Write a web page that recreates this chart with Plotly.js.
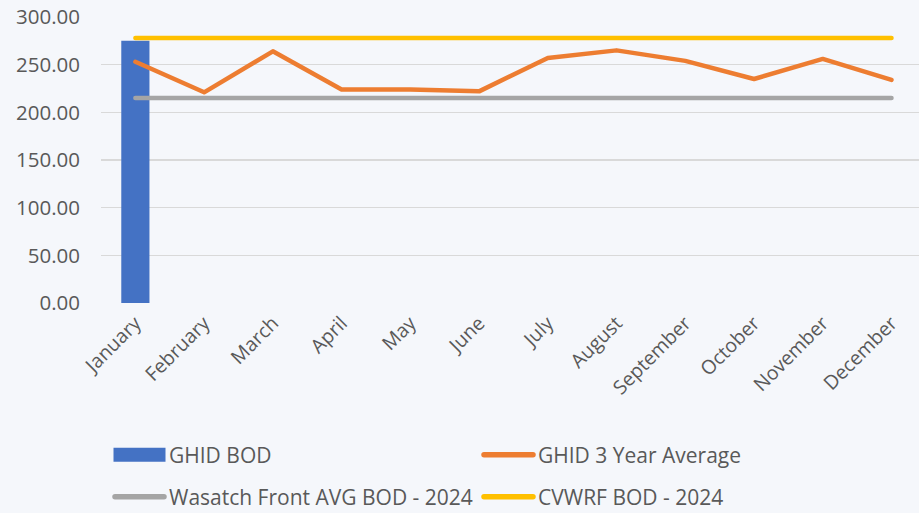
<!DOCTYPE html>
<html>
<head>
<meta charset="utf-8">
<script src="https://cdn.plot.ly/plotly-3.0.1.min.js"></script>
<style>html,body{margin:0;padding:0;background:#f5f7fb;}#chart{width:919px;height:513px;}</style>
</head>
<body>
<div id="chart"></div>
<script>
const months = ["January","February","March","April","May","June","July","August","September","October","November","December"];
const ghidBod = [275, null, null, null, null, null, null, null, null, null, null, null];
const ghid3yr = [253, 221, 264, 224, 224, 222, 257, 265, 254, 235, 256, 234];
const wasatch = [215, 215, 215, 215, 215, 215, 215, 215, 215, 215, 215, 215];
const cvwrf = [278, 278, 278, 278, 278, 278, 278, 278, 278, 278, 278, 278];
const yTicks = [0, 50, 100, 150, 200, 250, 300];

const font = "'Open Sans', sans-serif";
const traces = [
  {type:'bar', x:months, y:ghidBod, name:'GHID BOD', marker:{color:'#4472c4'}, width:0.41, legend:'legend'},
  {type:'scatter', mode:'lines', x:months, y:ghid3yr, name:'GHID 3 Year Average', line:{color:'#ed7d31', width:4.5}, legend:'legend'},
  {type:'scatter', mode:'lines', x:months, y:wasatch, name:'Wasatch Front AVG BOD - 2024', line:{color:'#a5a5a5', width:4.5}, legend:'legend2'},
  {type:'scatter', mode:'lines', x:months, y:cvwrf, name:'CVWRF BOD - 2024', line:{color:'#ffc000', width:4.5}, legend:'legend2'}
];
const legendCommon = {orientation:'h', xref:'container', yref:'container', xanchor:'left', yanchor:'middle', entrywidth:305, itemwidth:49,
  font:{size:21, color:'#595959'}, traceorder:'normal', bgcolor:'rgba(0,0,0,0)', borderwidth:0};
const layout = {
  width:919, height:513,
  paper_bgcolor:'#f5f7fb', plot_bgcolor:'#f5f7fb',
  margin:{l:101, r:0, t:17, b:210},
  font:{family:font, color:'#595959', size:18},
  showlegend:true,
  xaxis:{type:'category', range:[-0.5, 11.4], tickangle:-45, showgrid:false, zeroline:false, showline:false, ticks:'', automargin:false, ticklabelstandoff:4, tickfont:{size:19.5, color:'#595959'}},
  yaxis:{range:[0,300], tickvals:yTicks, tickformat:'.2f', showgrid:true, gridcolor:'#d9d9d9', gridwidth:1.5, zeroline:false, showline:false, ticks:'', automargin:false, ticklabelstandoff:20, tickfont:{size:20.5, color:'#595959'}},
  legend:Object.assign({}, legendCommon, {x:110/919, y:1 - 455/513}),
  legend2:Object.assign({}, legendCommon, {x:110/919, y:1 - 497/513}),
  bargap:0.59
};
function touchUp(gd){
  gd.querySelectorAll('.scatterlayer path.js-line').forEach(function(p){p.style.strokeLinecap='round';p.style.strokeLinejoin='round';});
  gd.querySelectorAll('.legendlines path').forEach(function(p){p.style.strokeLinecap='round';p.style.strokeWidth='5.5px';});
  gd.querySelectorAll('g.traces').forEach(function(g){
    const t = g.querySelector('text.legendtext');
    if (t && t.textContent === 'GHID BOD') {
      g.querySelectorAll('.legendpoints path').forEach(function(p){p.setAttribute('d','M-26,-7h52v14h-52Z');});
    }
  });
}
Plotly.newPlot('chart', traces, layout, {displayModeBar:false, staticPlot:true}).then(function(gd){
  touchUp(gd);
  setTimeout(function(){touchUp(gd);}, 0);
});
</script>
</body>
</html>
